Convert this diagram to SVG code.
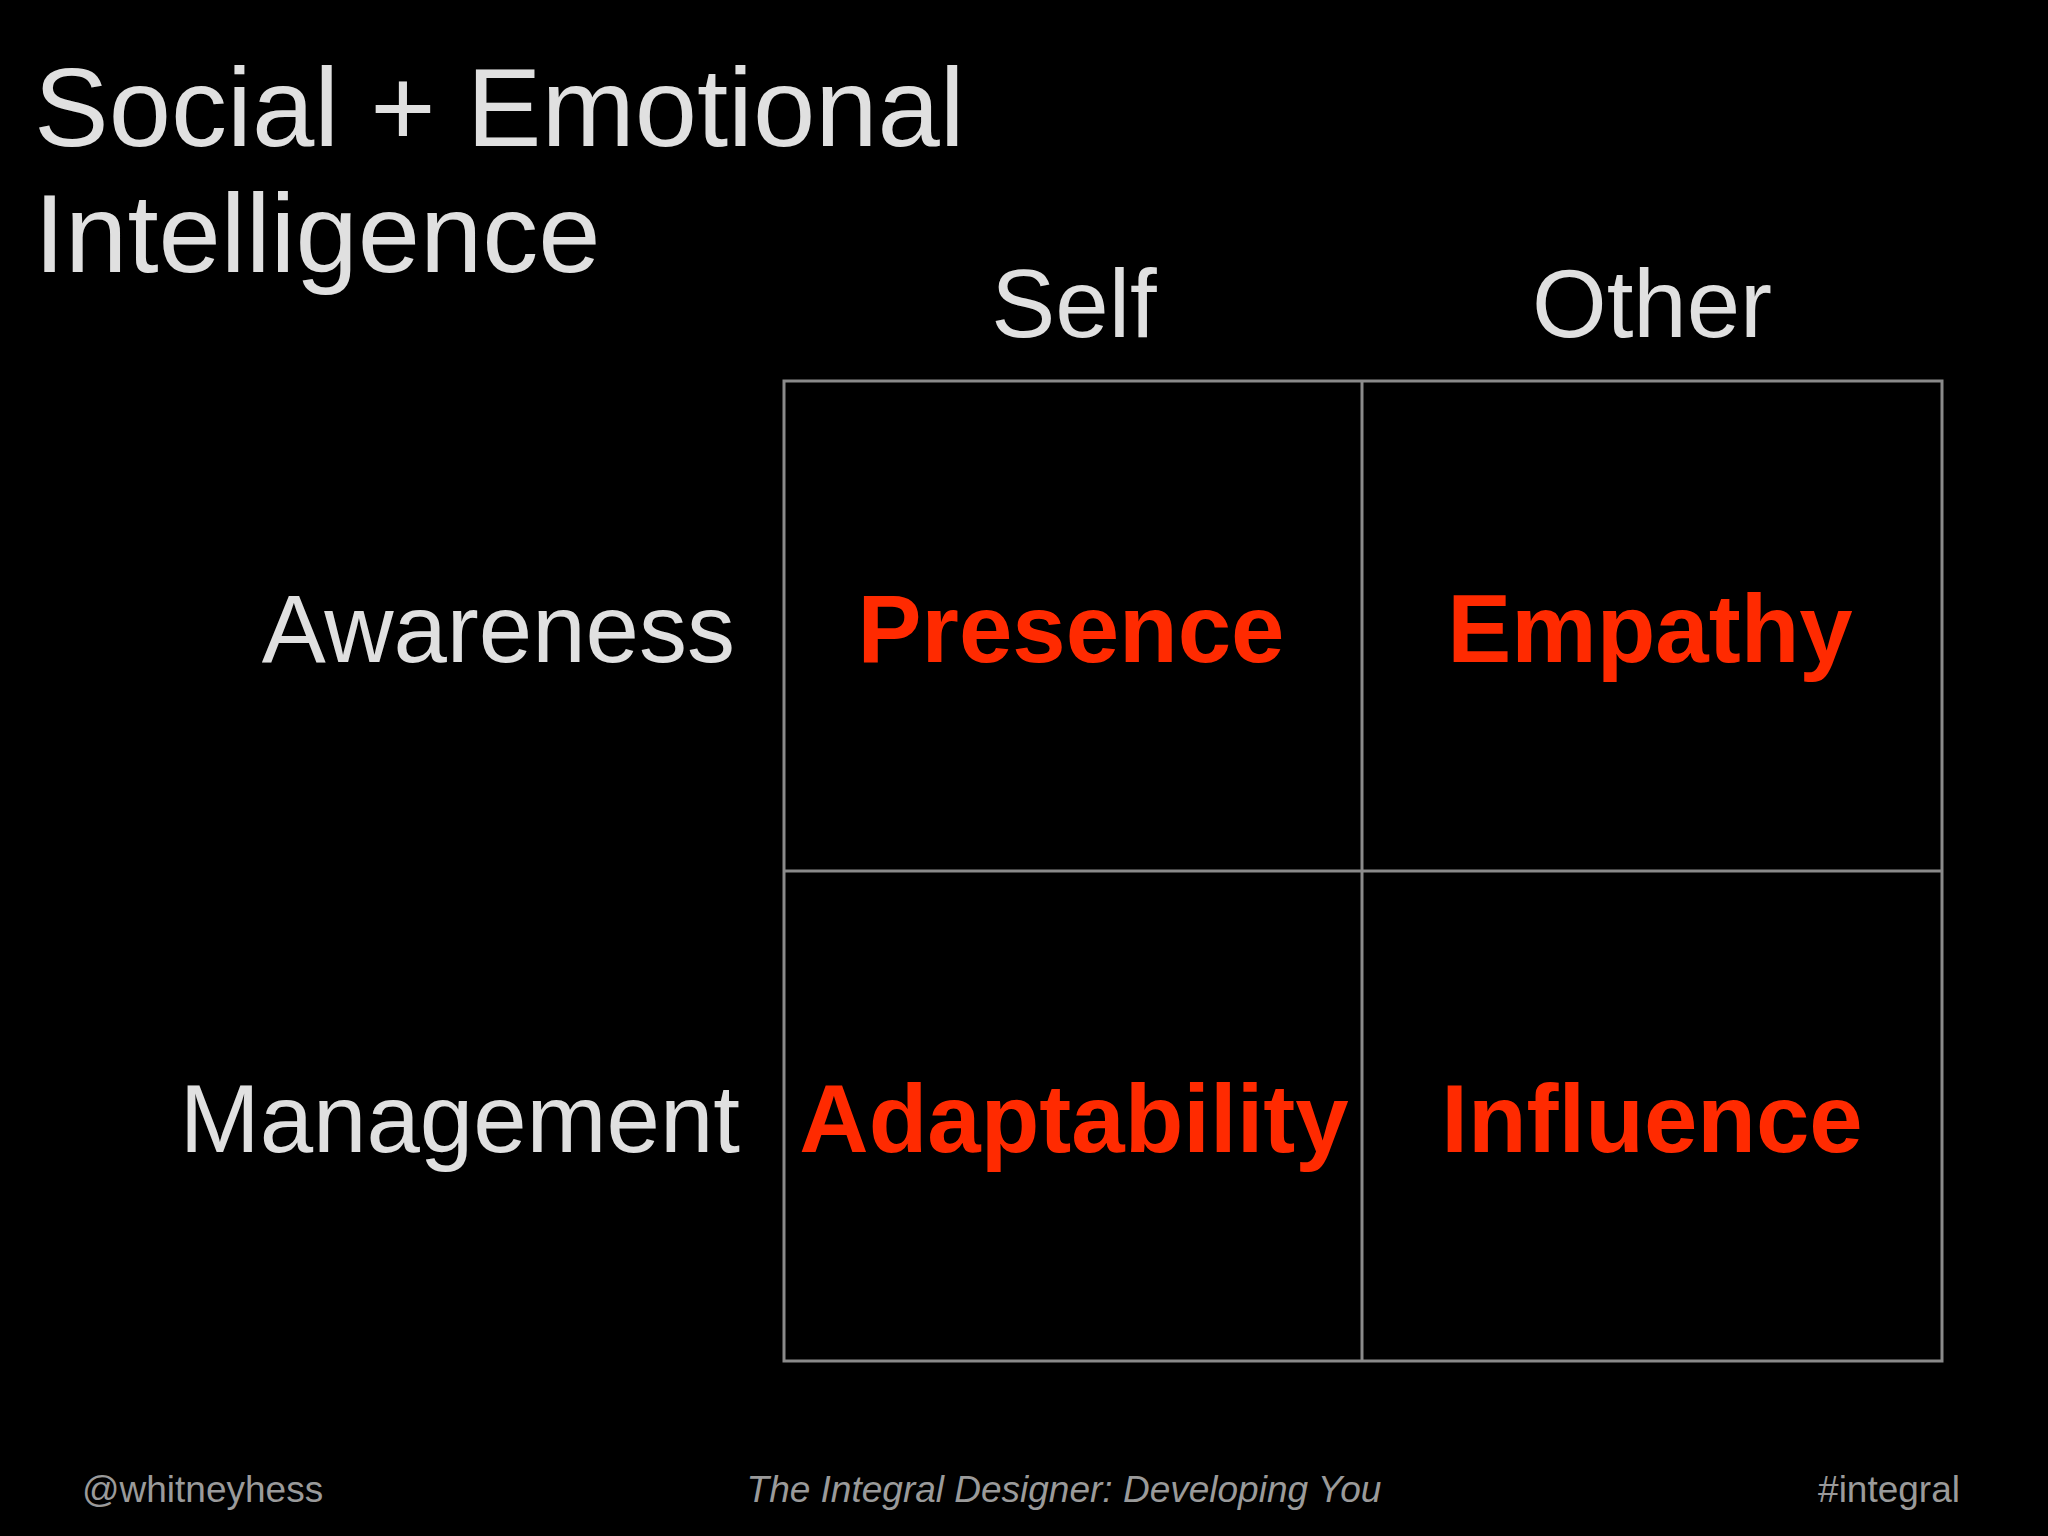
<svg xmlns="http://www.w3.org/2000/svg" width="2048" height="1536" viewBox="0 0 2048 1536">
<style>
.t{font-family:"Liberation Sans",Arial,sans-serif;fill:#e0e0e0}
.h{font-size:96px}
.r{font-family:"Liberation Sans",Arial,sans-serif;font-weight:bold;font-size:96px;fill:#ff2a00;text-anchor:middle}
.f{font-family:"Liberation Sans",Arial,sans-serif;font-size:37px;fill:#9a9a9a}
.g{stroke:#8a8a8a;stroke-width:3;fill:none}
</style>
<rect width="2048" height="1536" fill="#000"/>
<g id="title"><text class="t" x="34" y="146" font-size="112">Social + Emotional</text><text class="t" x="34" y="272" font-size="112">Intelligence</text></g>
<g id="headers"><text class="t h" x="1074" y="337" text-anchor="middle">Self</text><text class="t h" x="1652" y="337" text-anchor="middle">Other</text>
<text class="t h" x="735" y="662" text-anchor="end">Awareness</text><text class="t h" x="740" y="1152" text-anchor="end">Management</text></g>
<g id="grid"><rect class="g" x="784" y="381" width="1158" height="980"/><line class="g" x1="1362" y1="381" x2="1362" y2="1361"/><line class="g" x1="784" y1="871" x2="1942" y2="871"/></g>
<g id="presence"><text class="r" x="1071" y="662">Presence</text></g>
<g id="empathy"><text class="r" x="1650" y="662">Empathy</text></g>
<g id="adaptability"><text class="r" x="1074" y="1152">Adaptability</text></g>
<g id="influence"><text class="r" x="1652" y="1152">Influence</text></g>
<g id="footer"><text class="f" x="82" y="1502">@whitneyhess</text><text class="f" x="1064" y="1502" text-anchor="middle" font-style="italic">The Integral Designer: Developing You</text><text class="f" x="1960" y="1502" text-anchor="end">#integral</text></g>
</svg>
